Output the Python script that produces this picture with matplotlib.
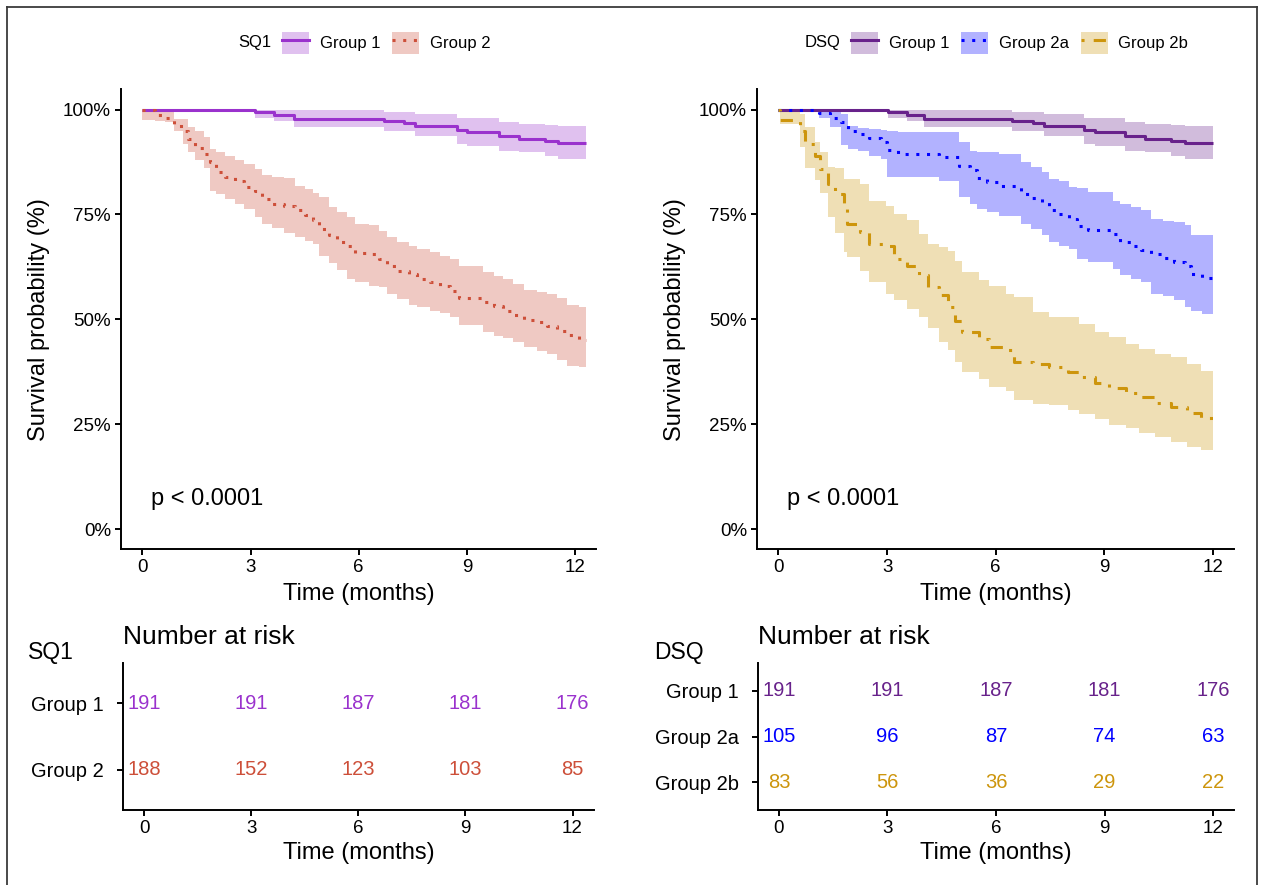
import numpy as np
import matplotlib
matplotlib.use("Agg")
import matplotlib.pyplot as plt
from matplotlib.patches import Patch
from matplotlib.lines import Line2D
from matplotlib.legend_handler import HandlerTuple

plt.rcParams['font.family'] = ['Liberation Sans', 'DejaVu Sans']

# ---- data (months, survival %) ----
# SQ1 panel
sq1_g1_t = [0, 3.13, 3.64, 4.20, 6.69, 7.25, 7.57, 8.72, 9.00, 9.88, 10.44, 11.17, 11.54]
g1_surv = [100, 99.3, 98.8, 97.8, 97.2, 96.8, 96.1, 95.2, 94.6, 93.7, 93.0, 92.5, 92.1]
g1_upper = [100, 100, 100, 100, 99.3, 99.3, 99.0, 98.1, 98.1, 97.1, 96.6, 96.3, 96.0]
g1_lower = [100, 98.0, 97.2, 95.8, 95.0, 94.8, 93.6, 91.7, 91.2, 90.2, 89.8, 89.0, 88.3]
sq1_end = 12.3

sq1_g2_t = [0, 0.36, 0.64, 0.87, 1.14, 1.28, 1.47, 1.70, 1.89, 2.04, 2.30, 2.58, 2.81,
            3.13, 3.32, 3.59, 3.92, 4.24, 4.52, 4.74, 4.91, 5.17, 5.40, 5.67, 5.90,
            6.28, 6.55, 6.78, 7.06, 7.39, 7.61, 7.98, 8.26, 8.54, 8.77, 9.46, 9.74,
            10.01, 10.29, 10.57, 10.94, 11.22, 11.49, 11.78, 12.10]
sq1_g2_surv = [100, 98.7, 97.9, 96.2, 95.0, 92.9, 90.8, 89.4, 87.5, 85.2, 83.9, 82.9, 81.5,
               80.5, 78.7, 77.5, 76.9, 76.0, 74.8, 73.6, 71.6, 70.0, 68.5, 67.5, 65.9,
               65.5, 64.4, 62.6, 61.5, 60.9, 59.5, 58.9, 57.9, 56.7, 55.2, 54.1, 53.1,
               52.1, 51.0, 49.9, 49.4, 48.3, 47.2, 46.2, 45.2]
sq1_g2_upper = [100, 100, 99.4, 97.8, 97.8, 95.8, 95.0, 93.5, 90.6, 89.8, 89.0, 88.0, 87.0,
                85.9, 84.3, 84.0, 83.7, 81.9, 81.1, 80.0, 79.1, 76.8, 75.6, 74.4, 72.8,
                72.4, 71.0, 69.6, 68.5, 67.5, 66.8, 66.0, 65.2, 64.3, 62.8, 61.3, 60.3,
                59.5, 58.5, 56.9, 56.5, 56.1, 55.0, 53.5, 52.9]
sq1_g2_lower = [97.6, 97.2, 97.0, 95.0, 91.8, 89.8, 87.9, 86.0, 80.7, 79.9, 78.7, 77.5, 76.2,
                74.4, 72.8, 71.8, 70.6, 69.6, 68.6, 68.0, 65.2, 63.5, 61.8, 59.5, 59.0,
                58.0, 57.7, 56.1, 54.8, 53.5, 52.9, 52.1, 51.5, 50.6, 48.6, 47.0, 46.0,
                45.5, 44.5, 43.4, 42.5, 41.8, 40.2, 39.0, 38.6]

# DSQ panel
dsq_g1_t = [0, 3.02, 3.55, 4.02, 6.46, 7.02, 7.34, 8.45, 8.73, 9.56, 10.11, 10.85, 11.22]
dsq_end = 12.0

dsq_g2a_t = [0, 1.11, 1.43, 1.74, 1.92, 2.20, 2.51, 2.82, 3.00, 3.31, 4.43, 4.99, 5.29,
             5.48, 5.77, 6.09, 6.69, 6.97, 7.28, 7.46, 7.76, 8.01, 8.24, 8.54, 9.25,
             9.42, 9.74, 10.02, 10.28, 10.62, 10.91, 11.22, 11.40, 11.71]
dsq_g2a_surv = [100, 99.1, 98.1, 97.0, 95.0, 94.2, 93.2, 92.2, 90.4, 89.5, 88.7, 86.5, 85.6,
                83.6, 82.7, 81.9, 79.9, 78.9, 77.9, 76.1, 75.2, 74.0, 72.2, 71.4, 70.4,
                68.4, 67.6, 66.6, 65.5, 64.7, 63.6, 62.8, 60.9, 59.9]
dsq_g2a_upper = [100, 100, 99.3, 99.0, 96.0, 95.6, 95.4, 95.2, 95.0, 94.6, 94.6, 92.2, 90.2,
                 89.8, 89.8, 89.5, 87.4, 86.3, 85.1, 83.5, 83.0, 81.5, 81.2, 80.3, 78.3,
                 77.5, 76.7, 76.0, 73.9, 73.5, 73.1, 72.5, 70.1, 70.1]
dsq_g2a_lower = [100, 97.9, 95.8, 91.5, 90.5, 90.2, 89.0, 88.3, 83.9, 83.9, 83.0, 79.1, 77.5,
                 76.3, 75.5, 74.7, 72.8, 71.5, 70.0, 68.4, 67.5, 66.8, 64.5, 63.6, 62.0,
                 60.5, 59.6, 58.8, 56.1, 55.5, 54.5, 53.0, 52.1, 51.3]

dsq_g2b_t = [0, 0.05, 0.60, 0.74, 1.00, 1.15, 1.37, 1.57, 1.80, 1.89, 2.24, 2.49, 2.98,
             3.19, 3.55, 3.88, 4.14, 4.43, 4.69, 4.88, 5.08, 5.54, 5.82, 6.28, 6.51,
             7.02, 7.48, 7.99, 8.31, 8.73, 9.14, 9.60, 9.97, 10.39, 10.85, 11.27, 11.68]
dsq_g2b_surv = [100, 97.6, 95.0, 91.8, 89.0, 85.8, 82.3, 79.9, 76.4, 72.8, 70.8, 68.0, 67.5,
                64.4, 62.6, 60.5, 57.7, 55.7, 52.9, 49.6, 47.0, 45.4, 43.4, 42.6, 39.8,
                39.4, 38.6, 37.4, 36.2, 34.9, 33.7, 32.5, 31.4, 30.1, 29.0, 27.7, 26.6]
dsq_g2b_upper = [100, 100, 99.0, 95.8, 92.2, 89.8, 86.3, 86.0, 83.5, 83.5, 82.3, 78.3, 77.1,
                 75.2, 73.6, 70.4, 68.0, 67.2, 66.4, 64.0, 61.3, 59.3, 58.0, 56.1, 55.3,
                 51.7, 50.6, 50.6, 49.0, 47.0, 45.8, 44.2, 43.0, 41.8, 41.0, 39.4, 37.8]
dsq_g2b_lower = [100, 96.6, 91.0, 86.0, 83.1, 80.0, 74.5, 70.5, 66.0, 64.8, 61.6, 58.8, 56.1,
                 54.5, 52.5, 50.6, 48.0, 44.5, 42.7, 39.8, 37.5, 35.9, 33.9, 33.0, 30.7,
                 29.8, 29.5, 28.3, 27.5, 26.3, 24.8, 24.0, 22.8, 22.0, 20.8, 19.6, 18.8]

# number at risk
risk_times = [0, 3, 6, 9, 12]
sq1_groups = ["Group 1", "Group 2"]
sq1_risk = [[191, 191, 187, 181, 176], [188, 152, 123, 103, 85]]
dsq_groups = ["Group 1", "Group 2a", "Group 2b"]
dsq_risk = [[191, 191, 187, 181, 176], [105, 96, 87, 74, 63], [83, 56, 36, 29, 22]]

sq1_colors = ["#9A32CD", "#CD4F39"]
sq1_styles = ["-", (0, (1, 2.5))]
dsq_colors = ["#68228B", "#0000FF", "#CD950C"]
dsq_styles = ["-", (0, (1, 2.5)), (0, (1, 3, 4, 3))]

W, H = 1261, 885
fig = plt.figure(figsize=(W / 100, H / 100), dpi=100)


def box(l, t, r, b):
    return [l / W, 1 - b / H, (r - l) / W, (b - t) / H]


def km_band(ax, t, lo, hi, t_end, color):
    tt = np.append(t, t_end)
    ax.fill_between(tt, np.append(lo, lo[-1]), np.append(hi, hi[-1]), step='post',
                    color=color, alpha=0.3, lw=0)
    return tt


def km_line(ax, tt, s, color, ls):
    ax.step(tt, np.append(s, s[-1]), where='post', color=color, lw=2.2, ls=ls,
            dash_capstyle='butt', solid_capstyle='butt')


def style(ax):
    for sp in ['top', 'right']:
        ax.spines[sp].set_visible(False)
    for sp in ['left', 'bottom']:
        ax.spines[sp].set_linewidth(1.4)
    ax.tick_params(width=1.4, length=4, labelsize=13.5, pad=3)


def surv_axes(rect, curves, xend):
    ax = fig.add_axes(rect)
    lines = []
    for t, s, lo, hi, col, ls in curves:
        tt = km_band(ax, t, lo, hi, xend, col)
        lines.append((tt, s, col, ls))
    for tt, s, col, ls in lines:
        km_line(ax, tt, s, col, ls)
    ax.set_xlim(-0.6, 12.58)
    ax.set_ylim(-4.8, 104.9)
    ax.set_xticks(risk_times)
    ax.set_yticks([0, 25, 50, 75, 100])
    ax.set_yticklabels(["0%", "25%", "50%", "75%", "100%"])
    style(ax)
    ax.set_xlabel("Time (months)", fontsize=17, labelpad=5)
    ax.set_ylabel("Survival probability (%)", fontsize=17, labelpad=9)
    ax.text(0.25, 7.3, "p < 0.0001", fontsize=17, va='center', ha='left')
    return ax


def risk_axes(rect, groups, risk, colors, xlim, title, label, label_x):
    ax = fig.add_axes(rect)
    for i, (counts, col) in enumerate(zip(risk, colors)):
        for tp, c in zip(risk_times, counts):
            ax.text(tp, i + 1, str(c), color=col, ha='center', va='center', fontsize=14.5)
    ax.set_xlim(*xlim)
    ax.set_ylim(len(groups) + 0.6, 0.4)
    ax.set_xticks(risk_times)
    ax.set_yticks(range(1, len(groups) + 1))
    ax.set_yticklabels(groups)
    style(ax)
    ax.tick_params(axis='y', labelsize=14.5, pad=10)
    ax.set_xlabel("Time (months)", fontsize=17, labelpad=4)
    ax.set_title(title, loc='left', fontsize=19, pad=14)
    fig.text(label_x / W, 1 - 652 / H, label, fontsize=16.5, ha='left', va='center')
    return ax


surv_axes(box(120.7, 89, 596, 549.3),
          [(sq1_g1_t, g1_surv, g1_lower, g1_upper, sq1_colors[0], sq1_styles[0]),
           (sq1_g2_t, sq1_g2_surv, sq1_g2_lower, sq1_g2_upper, sq1_colors[1], sq1_styles[1])],
          sq1_end)
surv_axes(box(756.7, 89, 1234, 549.3),
          [(dsq_g1_t, g1_surv, g1_lower, g1_upper, dsq_colors[0], dsq_styles[0]),
           (dsq_g2a_t, dsq_g2a_surv, dsq_g2a_lower, dsq_g2a_upper, dsq_colors[1], dsq_styles[1]),
           (dsq_g2b_t, dsq_g2b_surv, dsq_g2b_lower, dsq_g2b_upper, dsq_colors[2], dsq_styles[2])],
          dsq_end)

risk_axes(box(122.7, 663, 594.3, 810), sq1_groups, sq1_risk, sq1_colors, (-0.6, 12.61),
          "Number at risk", "SQ1", 28)
risk_axes(box(758, 663, 1234, 810), dsq_groups, dsq_risk, dsq_colors, (-0.58, 12.58),
          "Number at risk", "DSQ", 654)


# legends on top
def top_legend(x_key, title, names, colors, styles):
    handles = [(Patch(facecolor=c, alpha=0.3, edgecolor='none'),
                Line2D([], [], color=c, ls=s, lw=2.2, dash_capstyle='butt'))
               for c, s in zip(colors, styles)]
    fig.legend(handles, names, loc='center left', bbox_to_anchor=(x_key / W, 1 - 43 / H),
               ncol=len(names), frameon=False, fontsize=12, handlelength=1.6,
               handleheight=1.6, handletextpad=0.66, columnspacing=0.72, borderpad=0,
               borderaxespad=0, handler_map={tuple: HandlerTuple(ndivide=1)})
    fig.text((x_key - 11) / W, 1 - 43 / H, title, fontsize=12, ha='right', va='center')


top_legend(282, "SQ1", sq1_groups, sq1_colors, sq1_styles)
top_legend(851, "DSQ", dsq_groups, dsq_colors, dsq_styles)

# outer frame of the figure
for xs, ys in [([7, 1257], [7, 7]), ([7, 7], [7, 885]), ([1257, 1257], [7, 885])]:
    fig.add_artist(Line2D([x / W for x in xs], [1 - y / H for y in ys],
                          transform=fig.transFigure, color='#3a3a3a', lw=1.3))

fig.savefig("out.png", dpi=100)
